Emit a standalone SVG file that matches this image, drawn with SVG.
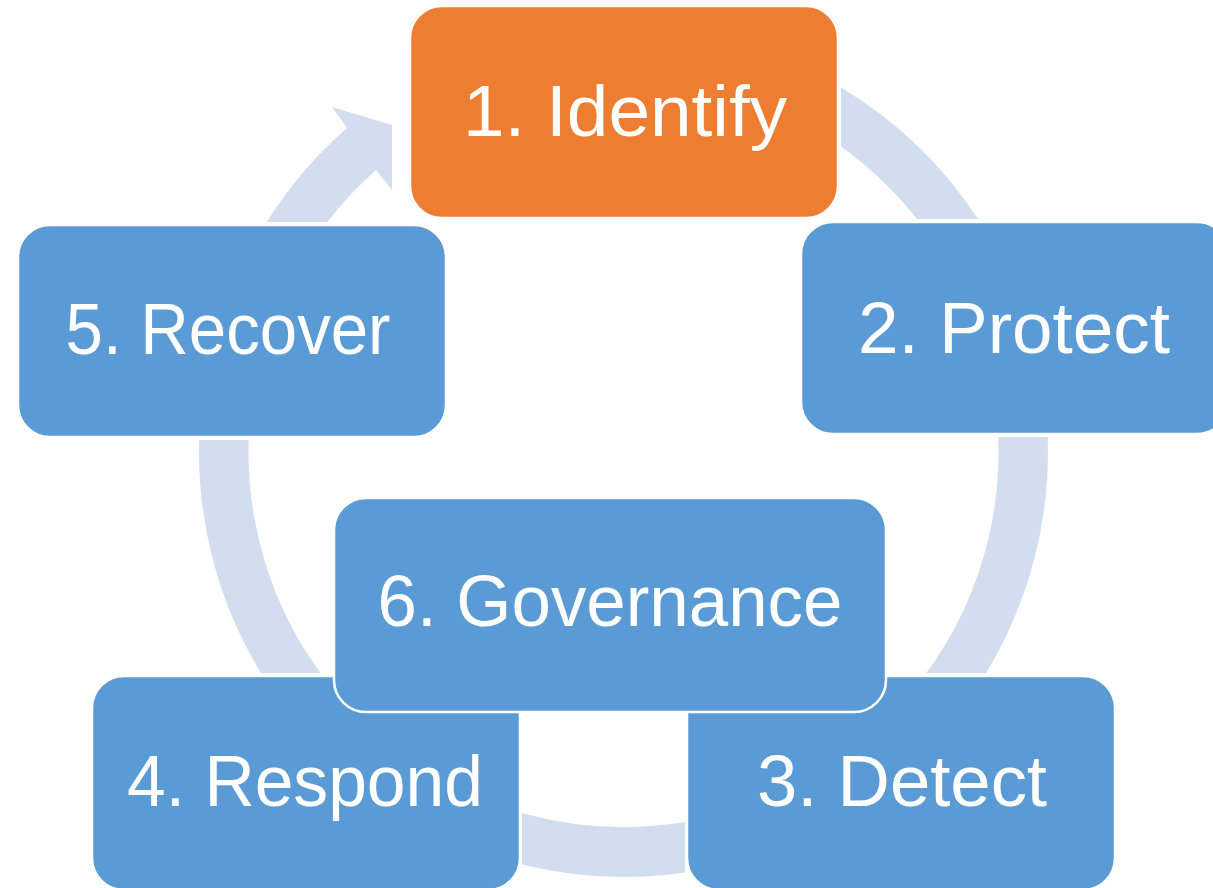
<svg xmlns="http://www.w3.org/2000/svg" width="1213" height="888" viewBox="0 0 1213 888">
<style>
.ring{fill:#D2DEEF;stroke:none}
.box{fill:#5B9BD5;stroke:#FFFFFF;stroke-width:2.5}
.orange{fill:#ED7D31}
.lbl{font-family:"Liberation Sans",Arial,sans-serif;font-size:72px;fill:#FFFFFF;text-anchor:middle}
</style>
<rect width="1213" height="888" fill="#FFFFFF"/>
<g id="connectors">
<path class="ring" d="M841,87.5 A424.5,424.5 0 0 1 978,219 L917,219 A375,375 0 0 0 841,146.5 Z"/>
<path class="ring" d="M1047.7,437 A424.5,424.5 0 0 1 986,673 L926.5,673 A375,375 0 0 0 998.2,437 Z"/>
<path class="ring" d="M685,872.5 A424.5,424.5 0 0 1 522,864.5 L522,813 A375,375 0 0 0 685,822 Z"/>
<path class="ring" d="M261,673 A424.5,424.5 0 0 1 199.2,440 L248.7,440 A375,375 0 0 0 320.5,673 Z"/>
<path class="ring" d="M266.7,222 A424.5,424.5 0 0 1 347,128 L332,107 L392,125 L392,190 L376,170 A375,375 0 0 0 327.3,222 Z"/>
</g>
<g id="node1">
<rect class="box orange" x="410" y="6" width="428" height="212" rx="32"/>
<text class="lbl" x="625" y="136" textLength="324" lengthAdjust="spacingAndGlyphs">1. Identify</text>
</g>
<g id="node2">
<rect class="box" x="801" y="222" width="428" height="212" rx="32"/>
<text class="lbl" x="1014" y="353" textLength="312" lengthAdjust="spacingAndGlyphs">2. Protect</text>
</g>
<g id="node5">
<rect class="box" x="18" y="225" width="428" height="212" rx="32"/>
<text class="lbl" x="228" y="354" textLength="325" lengthAdjust="spacingAndGlyphs">5. Recover</text>
</g>
<g id="node4">
<rect class="box" x="92" y="676" width="428" height="214" rx="32"/>
<text class="lbl" x="305" y="806" textLength="356" lengthAdjust="spacingAndGlyphs">4. Respond</text>
</g>
<g id="node3">
<rect class="box" x="687" y="676" width="428" height="214" rx="32"/>
<text class="lbl" x="902" y="806" textLength="290" lengthAdjust="spacingAndGlyphs">3. Detect</text>
</g>
<g id="node6">
<rect class="box" x="334" y="498" width="552" height="214" rx="32"/>
<text class="lbl" x="610" y="626" textLength="465" lengthAdjust="spacingAndGlyphs">6. Governance</text>
</g>
</svg>
